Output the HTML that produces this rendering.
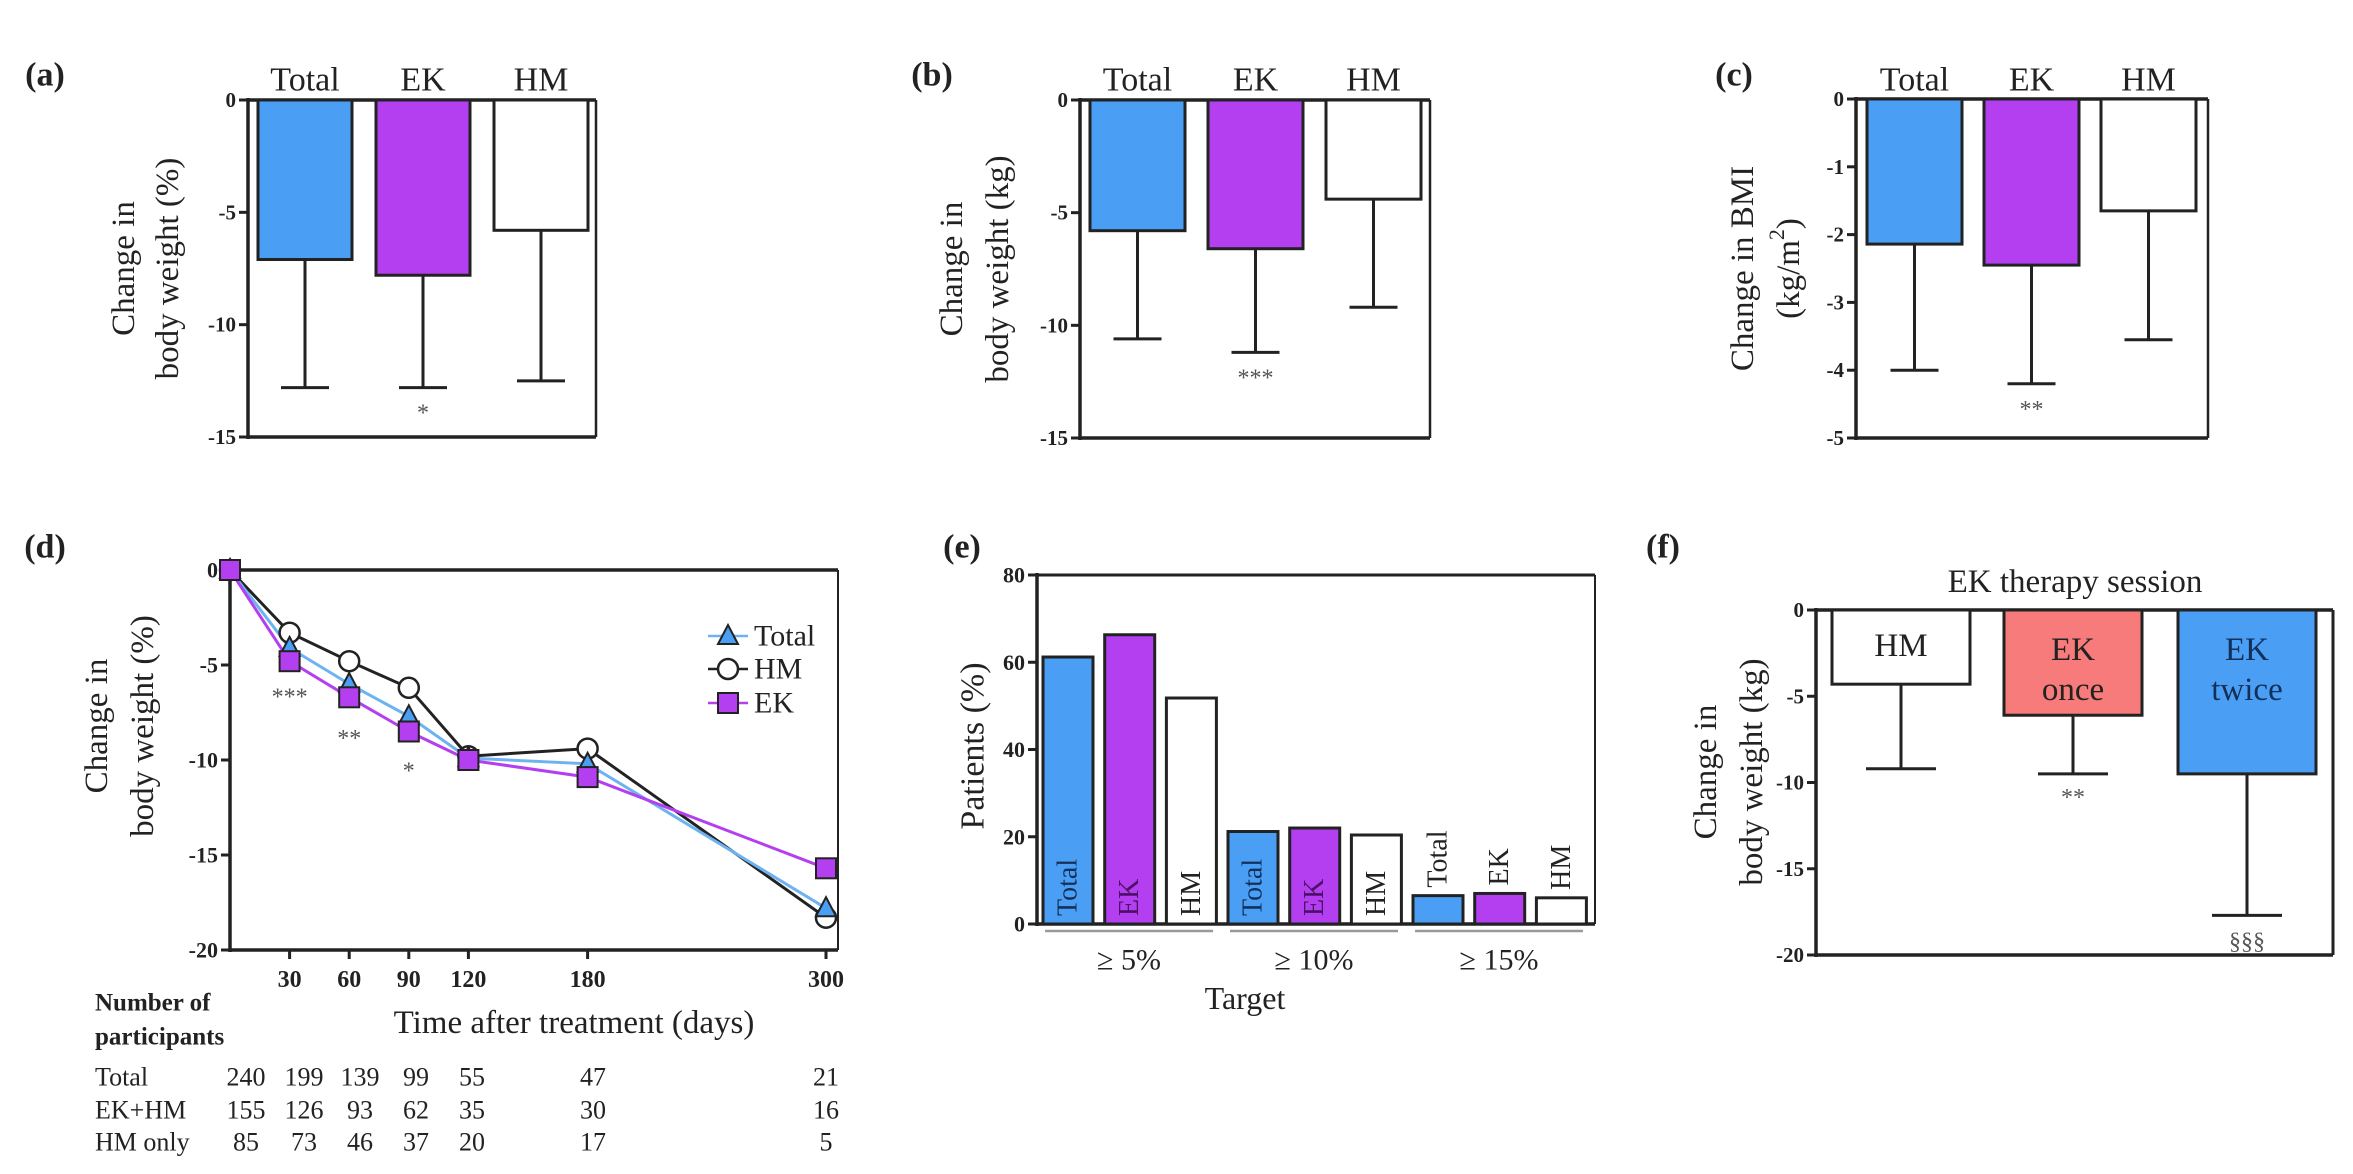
<!DOCTYPE html>
<html><head><meta charset="utf-8">
<style>
html,body{margin:0;padding:0;background:#fff}
svg{display:block;font-family:"Liberation Serif",serif}
</style></head>
<body>
<svg id="fig" width="2353" height="1174" viewBox="0 0 2353 1174" xmlns="http://www.w3.org/2000/svg"></svg>
<script>
// ---- data ----
const barCats = ["Total","EK","HM"];
const aMeans = [-7.1,-7.8,-5.8];
const aErr = [-12.8,-12.8,-12.5];
const bMeans = [-5.8,-6.6,-4.4];
const bErr = [-10.6,-11.2,-9.2];
const cMeans = [-2.14,-2.45,-1.65];
const cErr = [-4.0,-4.2,-3.55];
const aTicks = [0,-5,-10,-15];
const bTicks = [0,-5,-10,-15];
const cTicks = [0,-1,-2,-3,-4,-5];
const dDays = [0,30,60,90,120,180,300];
const dTotal = [0,-4.1,-6.0,-7.7,-9.9,-10.2,-17.8];
const dHM = [0,-3.3,-4.8,-6.2,-9.8,-9.4,-18.3];
const dEK = [0,-4.8,-6.7,-8.5,-10.0,-10.9,-15.7];
const dTicks = [0,-5,-10,-15,-20];
const tblTotal = [240,199,139,99,55,47,21];
const tblEKHM = [155,126,93,62,35,30,16];
const tblHM = [85,73,46,37,20,17,5];
const eGroups = ["\u2265 5%","\u2265 10%","\u2265 15%"];
const eTotal = [61.2,21.2,6.5];
const eEK = [66.3,22.0,7.0];
const eHM = [51.8,20.4,6.0];
const eTicks = [0,20,40,60,80];
const fCats = [["HM"],["EK","once"],["EK","twice"]];
const fMeans = [-4.3,-6.1,-9.5];
const fErr = [-9.2,-9.5,-17.7];
const fTicks = [0,-5,-10,-15,-20];

const BLUE="#4a9ff5", PURPLE="#b43ff0", SALMON="#f77b7b";
const svg=document.getElementById('fig');
const NS="http://www.w3.org/2000/svg";
function add(tag,attrs,parent,txt){const e=document.createElementNS(NS,tag);for(const k in attrs)e.setAttribute(k,attrs[k]);if(txt!==undefined)e.textContent=txt;(parent||svg).appendChild(e);return e;}
function grp(name){const g=add('g',{});return g;}
function lin(p,x1,y1,x2,y2,w,c){return add('line',{x1,y1,x2,y2,stroke:c||'#222','stroke-width':w||3},p);}
function txt(p,x,y,s,size,opt){opt=opt||{};const t=add('text',{x,y,'font-size':size,'text-anchor':opt.anchor||'middle','font-weight':opt.bold?'bold':'normal',fill:opt.fill||'#222','dominant-baseline':'central'},p,s);if(opt.rot)t.setAttribute('transform','rotate('+opt.rot+' '+x+' '+y+')');return t;}

// panel labels
[["(a)",45,75],["(b)",932,75],["(c)",1734,75],["(d)",45,547],["(e)",962,547],["(f)",1663,547]].forEach(l=>{
  const t=txt(svg,l[1],l[2],l[0],34,{bold:true});
  
  
});

function barPanel(name,ax,y0,y1,vmin,ticks,bx,bw,right,means,errs,title,stars,fills){
  const g=grp(name);
  const y=v=>y0+(v/vmin)*(y1-y0);
  lin(g,ax,y0,right,y0,3.5);
  lin(g,right,y0,right,y1,2.5);
  const axis=lin(g,ax,y0-2,ax,y1+2,3.5);
  
  
  lin(g,ax,y1,right,y1,3.5);
  ticks.forEach(t=>{lin(g,ax-9,y(t),ax,y(t),3);
    const tl=txt(g,ax-12,y(t),String(t),21,{bold:true,anchor:'end'});
    
    });
  means.forEach((m,i)=>{
    const cx=bx[i]+bw/2;
    const r=add('rect',{x:bx[i],y:y0,width:bw,height:y(m)-y0,fill:fills[i],stroke:'#222','stroke-width':3},g);
    
    
    const e=lin(g,cx,y(m),cx,y(errs[i]),3);
    
    
    lin(g,cx-24,y(errs[i]),cx+24,y(errs[i]),3);
    const c=txt(g,cx,80,barCats[i],34);
    
    
    if(stars[i]){const s=txt(g,cx,y(errs[i])+26,stars[i],24,{fill:'#555'});
      
      }
  });
  const t1=txt(g,title[0],(y0+y1)/2,title[2],33,{rot:-90});
  
  
  const t2=txt(g,title[1],(y0+y1)/2,title[3],33,{rot:-90});
  
  
  return t2;
}
const F=[BLUE,PURPLE,'#fff'];
barPanel('panel-a',248,100,437,-15,aTicks,[258,376,494],94,596,aMeans,aErr,[124,168,'Change in','body weight (%)'],['','*',''],F);
barPanel('panel-b',1080,100,438,-15,bTicks,[1090,1208,1326],95,1430,bMeans,bErr,[952,998,'Change in','body weight (kg)'],['','***',''],F);
const ct=barPanel('panel-c',1856,99,438,-5,cTicks,[1867,1984,2101],95,2208,cMeans,cErr,[1743,1789,'Change in BMI','(kg/m2)'],['','**',''],F);
ct.textContent='';
add('tspan',{},ct,'(kg/m');
add('tspan',{'baseline-shift':'super','font-size':22},ct,'2');
add('tspan',{},ct,')');

// ---- panel d ----
(function(){
  const g=grp('panel-d');
  const ax=230,right=838,y0=570,y1=950;
  const x=d=>ax+d*(826-ax)/300;
  const y=v=>y0+(v/-20)*(y1-y0);
  lin(g,ax,y0,right,y0,3.5);lin(g,right,y0,right,y1,2);
  lin(g,ax,y0-2,ax,y1+2,3.5);lin(g,ax,y1,right,y1,3.5);
  dTicks.forEach(t=>{lin(g,ax-9,y(t),ax,y(t),3);
    const tl=txt(g,ax-12,y(t),String(t),22,{bold:true,anchor:'end'});
    
    });
  dDays.slice(1).forEach(d=>{lin(g,x(d),y1,x(d),y1+9,3);
    const tl=txt(g,x(d),980,String(d),24,{bold:true});
    
    });
  const series=[[dHM,'#222','hm'],[dTotal,'#6db3f2','total'],[dEK,PURPLE,'ek']];
  series.forEach(s=>{
    const pts=dDays.map((d,i)=>x(d)+','+y(s[0][i])).join(' ');
    const pl=add('polyline',{points:pts,fill:'none',stroke:s[1],'stroke-width':3},g);
    
    
  });
  dDays.forEach((d,i)=>{
    const c=add('circle',{cx:x(d),cy:y(dHM[i]),r:10,fill:'#fff',stroke:'#222','stroke-width':2.5},g);
    
    
    const tx=x(d),ty=y(dTotal[i]);
    const t=add('polygon',{points:(tx)+','+(ty-11)+' '+(tx-10)+','+(ty+8)+' '+(tx+10)+','+(ty+8),fill:BLUE,stroke:'#222','stroke-width':2},g);
    
    
    const sq=add('rect',{x:x(d)-10,y:y(dEK[i])-10,width:20,height:20,fill:PURPLE,stroke:'#222','stroke-width':2},g);
    
    
  });
  [['***',30,-6.7],['**',60,-8.9],['*',90,-10.6]].forEach(s=>{
    const st=txt(g,x(s[1]),y(s[2]),s[0],24,{fill:'#555'});
    
    
  });
  // legend
  const lg=grp('legend');
  [['Total',636,'tri'],['HM',669,'cir'],['EK',703,'sq']].forEach(l=>{
    const c=l[2]==='tri'?'#6db3f2':l[2]==='sq'?PURPLE:'#222';
    lin(lg,708,l[1],748,l[1],2.5,c);
    let m;
    if(l[2]==='tri')m=add('polygon',{points:'728,'+(l[1]-11)+' 718,'+(l[1]+8)+' 738,'+(l[1]+8),fill:BLUE,stroke:'#222','stroke-width':2},lg);
    else if(l[2]==='cir')m=add('circle',{cx:728,cy:l[1],r:10,fill:'#fff',stroke:'#222','stroke-width':2.5},lg);
    else m=add('rect',{x:718,y:l[1]-10,width:20,height:20,fill:PURPLE,stroke:'#222','stroke-width':2},lg);
    
    
    const lt=txt(lg,754,l[1],l[0],30,{anchor:'start'});
    
    
  });
  const t1=txt(g,97,726,'Change in',33,{rot:-90});
  
  
  const t2=txt(g,143,726,'body weight (%)',33,{rot:-90});
  
  
  const xt=txt(g,574,1023,'Time after treatment (days)',33);
  
  
  // table
  const tb=grp('participants-table');
  const h1=txt(tb,95,1003,'Number of',25,{bold:true,anchor:'start'});
  
  
  const h2=txt(tb,95,1037,'participants',25,{bold:true,anchor:'start'});
  
  
  const cols=[246,304,360,416,472,593,826];
  [['Total',tblTotal,1077],['EK+HM',tblEKHM,1110],['HM only',tblHM,1142]].forEach(r=>{
    const rl=txt(tb,95,r[2],r[0],26,{anchor:'start'});
    
    
    r[1].forEach((v,i)=>{const c=txt(tb,cols[i],r[2],String(v),26);
      
      });
  });
})();

// ---- panel e ----
(function(){
  const g=grp('panel-e');
  const ax=1037,right=1595,y0=924,y1=575;
  const y=v=>y0-(v/80)*(y0-y1);
  lin(g,ax,y1,right,y1,3);lin(g,right,y1,right,y0,2);
  lin(g,ax,y1-2,ax,y0+2,3.5);lin(g,ax,y0,right,y0,3.5);
  eTicks.forEach(t=>{lin(g,ax-9,y(t),ax,y(t),3);
    const tl=txt(g,ax-12,y(t),String(t),22,{bold:true,anchor:'end'});
    
    });
  const sets=[[eTotal,BLUE,'Total'],[eEK,PURPLE,'EK'],[eHM,'#fff','HM']];
  eGroups.forEach((gname,gi)=>{
    const gx=1043+gi*185;
    sets.forEach((s,si)=>{
      const bx=gx+si*61.7, v=s[0][gi];
      const r=add('rect',{x:bx,y:y(v),width:50,height:y0-y(v),fill:s[1],stroke:'#222','stroke-width':3},g);
      
      
      const big=(y0-y(v))>70;
      const ty=big?y0-8:y(v)-8;
      const lb=add('text',{x:bx+25,y:ty,'font-size':28,'text-anchor':'start','dominant-baseline':'central',fill:s[2]==='EK'&&big?'#4b1064':(s[2]==='Total'&&big?'#12305a':'#222'),transform:'rotate(-90 '+(bx+25)+' '+ty+')'},g,s[2]);
      
      
    });
    lin(g,gx+2,931,gx+170,931,2.5,'#999');
    const gl=txt(g,gx+86,960,gname,30);
    
    
  });
  const xt=txt(g,1245,998,'Target',32);
  
  
  const yt=txt(g,973,746,'Patients (%)',34,{rot:-90});
  
  
})();

// ---- panel f ----
(function(){
  const g=grp('panel-f');
  const ax=1816,right=2333,y0=610,y1=955;
  const y=v=>y0+(v/-20)*(y1-y0);
  const bx=[1832,2004,2178],fills=['#fff',SALMON,BLUE];
  lin(g,ax,y0,right,y0,3.5);lin(g,right,y0,right,y1,3);
  lin(g,ax,y0-2,ax,y1+2,3.5);lin(g,ax,y1,right,y1,3.5);
  fTicks.forEach(t=>{lin(g,ax-9,y(t),ax,y(t),3);
    const tl=txt(g,ax-12,y(t),String(t),21,{bold:true,anchor:'end'});
    
    });
  fMeans.forEach((m,i)=>{
    const cx=bx[i]+69;
    const r=add('rect',{x:bx[i],y:y0,width:138,height:y(m)-y0,fill:fills[i],stroke:'#222','stroke-width':3},g);
    
    
    const e=lin(g,cx,y(m),cx,y(fErr[i]),3);
    
    
    lin(g,cx-35,y(fErr[i]),cx+35,y(fErr[i]),3);
    fCats[i].forEach((w,j)=>{
      const l=txt(g,cx,(i===0?646:650)+j*40,w,33,{fill:i===2?'#12305a':'#222'});
      
      
    });
  });
  const s1=txt(g,2073,798,'**',24,{fill:'#555'});
  
  
  const s2=txt(g,2247,942,'\u00a7\u00a7\u00a7',24,{fill:'#555'});
  
  
  const tt=txt(g,2075,582,'EK therapy session',33);
  
  
  const t1=txt(g,1706,772,'Change in',33,{rot:-90});
  
  
  const t2=txt(g,1752,772,'body weight (kg)',33,{rot:-90});
  
  
})();
</script>
</body></html>
